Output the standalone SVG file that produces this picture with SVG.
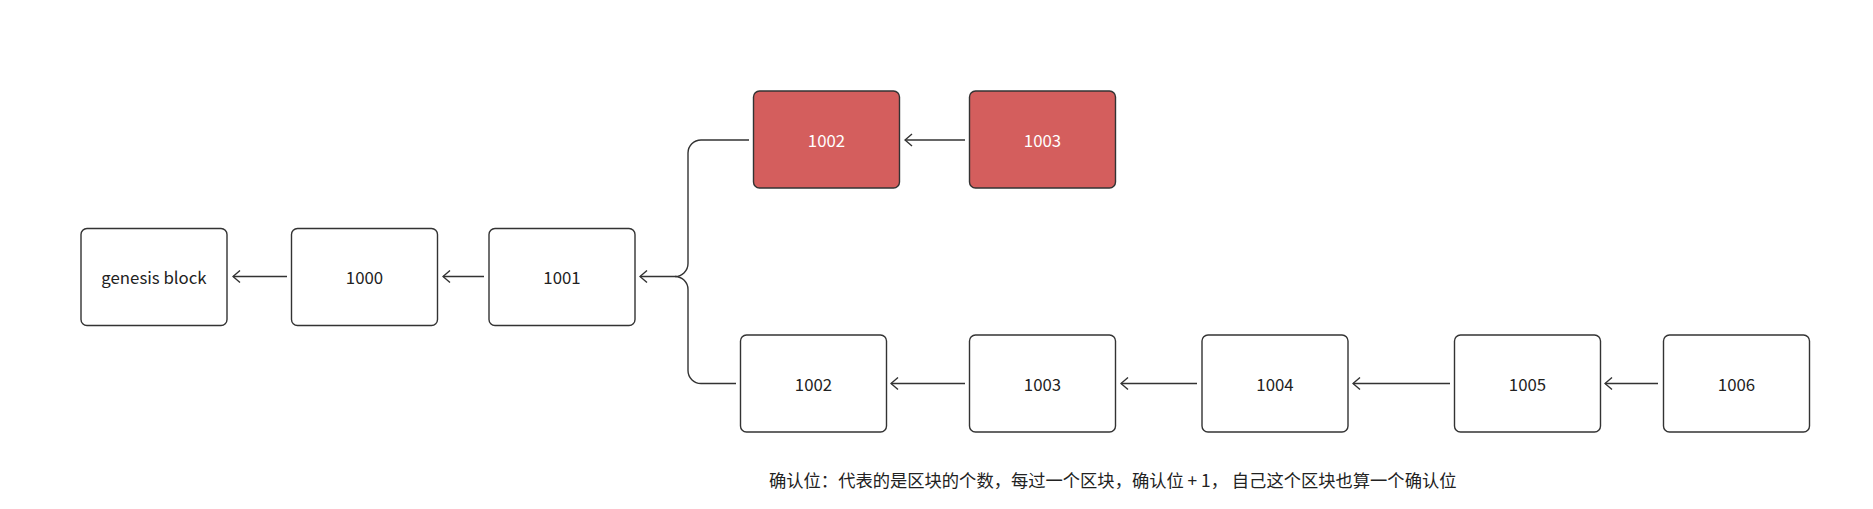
<svg xmlns="http://www.w3.org/2000/svg" width="1873" height="509" viewBox="0 0 1873 509">
  <defs>
    <marker id="arrow" viewBox="0 0 10 14" refX="9" refY="7" markerWidth="10" markerHeight="14" markerUnits="userSpaceOnUse" orient="auto">
      <path d="M2,1 L9,7 L2,13" fill="none" stroke="#333333" stroke-width="1.4" stroke-linejoin="miter"/>
    </marker>
    <style>
      .box { fill: #ffffff; stroke: #333333; stroke-width: 1.4; }
      .red { fill: #d45e5d; stroke: #333333; stroke-width: 1.4; }
      .lbl { font-family: "Noto Sans CJK SC", "Noto Sans", sans-serif; font-size: 16.8px; fill: #222222; text-anchor: middle; dominant-baseline: central; }
      .lblw { fill: #ffffff; }
      .conn { fill: none; stroke: #333333; stroke-width: 1.4; }
      .note { font-family: "Noto Sans CJK SC", "Noto Sans", sans-serif; font-size: 17.3px; fill: #222222; }
    </style>
  </defs>

  <g id="connectors">
    <path class="conn" d="M287,276.5 H233" marker-end="url(#arrow)"/>
    <path class="conn" d="M484,276.5 H443" marker-end="url(#arrow)"/>
    <path class="conn" d="M749,140 H701 A13,13 0 0 0 688,153 V263.5 A13,13 0 0 1 675,276.5 H640" marker-end="url(#arrow)"/>
    <path class="conn" d="M736,383.5 H701 A13,13 0 0 1 688,370.5 V289.5 A13,13 0 0 0 675,276.5"/>
    <path class="conn" d="M965,140 H905" marker-end="url(#arrow)"/>
    <path class="conn" d="M965,383.5 H891" marker-end="url(#arrow)"/>
    <path class="conn" d="M1197,383.5 H1121" marker-end="url(#arrow)"/>
    <path class="conn" d="M1450,383.5 H1353" marker-end="url(#arrow)"/>
    <path class="conn" d="M1658,383.5 H1605" marker-end="url(#arrow)"/>
  </g>

  <g id="node-genesis">
    <rect class="box" x="81" y="228.5" width="146" height="97" rx="6"/>
    <text class="lbl" x="154" y="277">genesis block</text>
  </g>
  <g id="node-1000">
    <rect class="box" x="291.5" y="228.5" width="146" height="97" rx="6"/>
    <text class="lbl" x="364.5" y="277">1000</text>
  </g>
  <g id="node-1001">
    <rect class="box" x="489" y="228.5" width="146" height="97" rx="6"/>
    <text class="lbl" x="562" y="277">1001</text>
  </g>
  <g id="node-1002-red">
    <rect class="red" x="753.5" y="91" width="146" height="97" rx="6"/>
    <text class="lbl lblw" x="826.5" y="140">1002</text>
  </g>
  <g id="node-1003-red">
    <rect class="red" x="969.5" y="91" width="146" height="97" rx="6"/>
    <text class="lbl lblw" x="1042.5" y="140">1003</text>
  </g>
  <g id="node-1002">
    <rect class="box" x="740.5" y="335" width="146" height="97" rx="6"/>
    <text class="lbl" x="813.5" y="384">1002</text>
  </g>
  <g id="node-1003">
    <rect class="box" x="969.5" y="335" width="146" height="97" rx="6"/>
    <text class="lbl" x="1042.5" y="384">1003</text>
  </g>
  <g id="node-1004">
    <rect class="box" x="1202" y="335" width="146" height="97" rx="6"/>
    <text class="lbl" x="1275" y="384">1004</text>
  </g>
  <g id="node-1005">
    <rect class="box" x="1454.5" y="335" width="146" height="97" rx="6"/>
    <text class="lbl" x="1527.5" y="384">1005</text>
  </g>
  <g id="node-1006">
    <rect class="box" x="1663.5" y="335" width="146" height="97" rx="6"/>
    <text class="lbl" x="1736.5" y="384">1006</text>
  </g>

  <g id="note">
    <text class="note" x="769" y="486.5">确认位：代表的是区块的个数，每过一个区块，确认位 + 1， 自己这个区块也算一个确认位</text>
  </g>
</svg>
